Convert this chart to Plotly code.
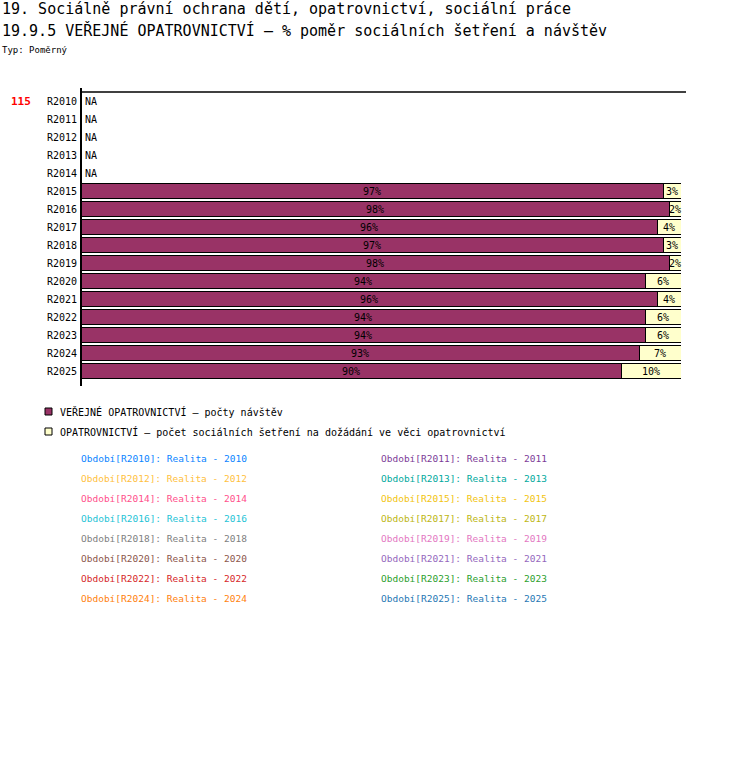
import plotly.graph_objects as go

years = ["R2010", "R2011", "R2012", "R2013", "R2014", "R2015", "R2016", "R2017",
         "R2018", "R2019", "R2020", "R2021", "R2022", "R2023", "R2024", "R2025"]
navstevy = [None, None, None, None, None, 97, 98, 96, 97, 98, 94, 96, 94, 94, 93, 90]
setreni = [None, None, None, None, None, 3, 2, 4, 3, 2, 6, 4, 6, 6, 7, 10]

series_names = ["VEŘEJNÉ OPATROVNICTVÍ – počty návštěv",
                "OPATROVNICTVÍ – počet sociálních šetření na dožádání ve věci opatrovnictví"]
series_colors = ["#993366", "#FFFFCC"]

period_colors = ["#0A84FF", "#7D3C98", "#FFBF40", "#00A99D", "#FF4F8B", "#F2C40F",
                 "#1EC3D6", "#BDB613", "#808080", "#E377C2", "#8C564B", "#9467BD",
                 "#D62728", "#2CA02C", "#FF7F0E", "#1F77B4"]

FONT = "DejaVu Sans Mono"
W, H = 750, 776
L, R, T, B = 81, 681, 92, 380


def px(p):
    return (p - L) / (R - L)


def py(p):
    return (B - p) / (B - T)


fig = go.Figure()
for vals, name, col in zip([navstevy, setreni], series_names, series_colors):
    fig.add_trace(go.Bar(
        y=years, x=vals, name=name, orientation="h", width=0.84,
        marker=dict(color=col, line=dict(color="black", width=1)),
        hoverinfo="x+y", showlegend=False
    ))

ann = []
# labels in segments
for i, y in enumerate(years):
    if navstevy[i] is None:
        ann.append(dict(x=0, y=y, xref="x", yref="y", text="NA", showarrow=False,
                        xanchor="left", xshift=2, font=dict(family=FONT, size=10, color="black")))
        continue
    start = 0
    for vals in [navstevy, setreni]:
        v = vals[i]
        ann.append(dict(x=start + v / 2, y=y, xref="x", yref="y", text=f"{v}%",
                        showarrow=False, font=dict(family=FONT, size=10, color="black")))
        start += v

# titles
ann.append(dict(x=px(0), y=py(9), xref="paper", yref="paper", xanchor="left", yanchor="middle",
                text="19. Sociálně právní ochrana dětí, opatrovnictví, sociální práce",
                showarrow=False, font=dict(family=FONT, size=15, color="black")))
ann.append(dict(x=px(0), y=py(30), xref="paper", yref="paper", xanchor="left", yanchor="middle",
                text="19.9.5 VEŘEJNÉ OPATROVNICTVÍ – % poměr sociálních šetření a návštěv",
                showarrow=False, font=dict(family=FONT, size=15, color="black")))
ann.append(dict(x=px(0), y=py(50), xref="paper", yref="paper", xanchor="left", yanchor="middle",
                text="Typ: Poměrný", showarrow=False, font=dict(family=FONT, size=9, color="black")))
ann.append(dict(x=px(9), y=py(101), xref="paper", yref="paper", xanchor="left", yanchor="middle",
                text="<b>115</b>", showarrow=False, font=dict(family=FONT, size=11, color="red")))

shapes = [
    dict(type="line", xref="paper", yref="paper", x0=px(80), x1=px(686), y0=py(92), y1=py(92),
         line=dict(color="black", width=1.5)),
    dict(type="line", xref="paper", yref="paper", x0=px(81), x1=px(81), y0=py(88), y1=py(386),
         line=dict(color="black", width=2)),
]

# legend
for k, (name, col) in enumerate(zip(series_names, series_colors)):
    yc = 412 + 20 * k
    shapes.append(dict(type="rect", xref="paper", yref="paper", x0=px(45), x1=px(52),
                       y0=py(yc - 4), y1=py(yc + 3), fillcolor=col, line=dict(color="black", width=1)))
    ann.append(dict(x=px(58), y=py(yc), xref="paper", yref="paper", xanchor="left", yanchor="middle",
                    text=name, showarrow=False, font=dict(family=FONT, size=10, color="black")))

# periods
for k, y in enumerate(years):
    col_x = 79 if k % 2 == 0 else 379
    yc = 458 + 20 * (k // 2)
    ann.append(dict(x=px(col_x), y=py(yc), xref="paper", yref="paper", xanchor="left", yanchor="middle",
                    text=f"Období[{y}]: Realita - {y[1:]}", showarrow=False,
                    font=dict(family=FONT, size=9.5, color=period_colors[k])))

fig.update_layout(
    width=W, height=H,
    margin=dict(l=L, r=W - R, t=T, b=H - B),
    barmode="stack", bargap=0.16,
    plot_bgcolor="white", paper_bgcolor="white",
    font=dict(family=FONT, size=10, color="black"),
    xaxis=dict(range=[0, 100], visible=False, fixedrange=True),
    yaxis=dict(autorange="reversed", showgrid=False, showline=False, ticks="",
               ticklabelstandoff=3, tickfont=dict(family=FONT, size=10, color="black")),
    annotations=ann, shapes=shapes,
)

# drop the default body margin so the figure fills the window from the corner
fig.write_html("out.html", config={"displayModeBar": False},
               post_script="document.body.style.margin='0';")
